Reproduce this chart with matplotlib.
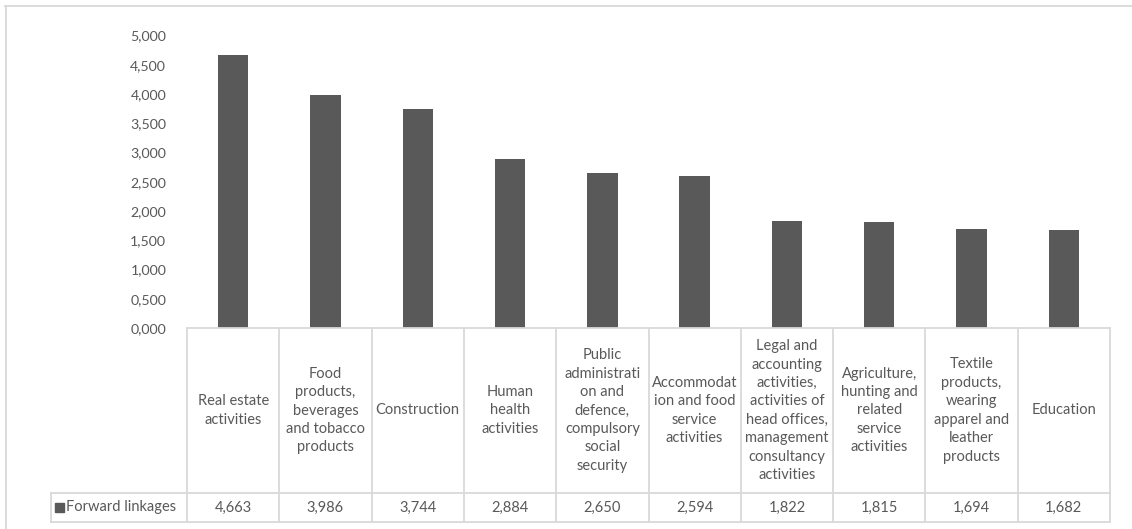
import matplotlib.pyplot as plt
from matplotlib.lines import Line2D
from matplotlib.patches import Rectangle

# Data
categories = [
    'Real estate\nactivities',
    'Food\nproducts,\nbeverages\nand tobacco\nproducts',
    'Construction',
    'Human\nhealth\nactivities',
    'Public\nadministrati\non and\ndefence,\ncompulsory\nsocial\nsecurity',
    'Accommodat\nion and food\nservice\nactivities',
    'Legal and\naccounting\nactivities,\nactivities of\nhead offices,\nmanagement\nconsultancy\nactivities',
    'Agriculture,\nhunting and\nrelated\nservice\nactivities',
    'Textile\nproducts,\nwearing\napparel and\nleather\nproducts',
    'Education',
]
values = [4.663, 3.986, 3.744, 2.884, 2.650, 2.594, 1.822, 1.815, 1.694, 1.682]
series_name = 'Forward linkages'
yticks = [0, 0.5, 1, 1.5, 2, 2.5, 3, 3.5, 4, 4.5, 5]

bar_color = '#595959'
text_color = '#595959'
line_color = '#d9d9d9'
plt.rcParams['font.family'] = ['Lato', 'DejaVu Sans']
fs = 10.5

W, H = 1132, 529
fig = plt.figure(figsize=(W / 100, H / 100), dpi=100)

def fx(px):
    return px / W

def fy(py):
    return 1 - py / H

# outer chart frame (partly cropped)
fig.add_artist(Line2D([fx(5.5), fx(5.5)], [fy(6), 0], color=line_color, lw=1.3))
fig.add_artist(Line2D([fx(5), 1], [fy(6), fy(6)], color=line_color, lw=1.3))

# main bar axes
ax = fig.add_axes([fx(187), fy(328), fx(1110) - fx(187), fy(35.5) - fy(328)])
x = list(range(len(values)))
ax.bar(x, values, width=0.33, color=bar_color, zorder=2)
ax.set_xlim(-0.5, len(values) - 0.5)
ax.set_ylim(0, 5)
ax.set_yticks(yticks)
ax.set_yticklabels([f'{v:.3f}'.replace('.', ',') for v in yticks], color=text_color, fontsize=10.2)
ax.tick_params(axis='y', length=0, pad=15)
ax.tick_params(axis='x', length=0, labelbottom=False)
for s in ax.spines.values():
    s.set_visible(False)

# data table under the axes
tab = fig.add_axes([fx(187), fy(522), fx(1110) - fx(187), fy(328) - fy(522)])
tab.set_xlim(-0.5, len(values) - 0.5)
tab.set_ylim(0, 1)
tab.axis('off')
split = (522 - 493) / (522 - 328)
unit = (1110 - 187) / len(values)
left_x = -0.5 - (187 - 51) / unit

lk = dict(color=line_color, lw=1.3, clip_on=False)
tab.plot([-0.5, len(values) - 0.5], [1, 1], **lk)
tab.plot([left_x, len(values) - 0.5], [split, split], **lk)
tab.plot([left_x, len(values) - 0.5], [0, 0], **lk)
tab.plot([left_x, left_x], [0, split], **lk)
for i in range(len(values) + 1):
    tab.plot([i - 0.5, i - 0.5], [0, 1], **lk)

for i, (cat, v) in enumerate(zip(categories, values)):
    tab.text(i, (1 + split) / 2, cat, ha='center', va='center', fontsize=fs,
             color=text_color, linespacing=1.4)
    tab.text(i, split / 2, f'{v:.3f}'.replace('.', ','), ha='center', va='center',
             fontsize=fs, color=text_color)

# legend key in row label
tab.add_patch(Rectangle((left_x + 4 / unit, split / 2 - 4.5 / 194), 9 / unit, 9 / 194,
                        color=bar_color, clip_on=False))
tab.text(left_x + 15 / unit, split / 2, series_name, ha='left', va='center',
         fontsize=fs, color=text_color)

fig.savefig('out.png', dpi=100)
